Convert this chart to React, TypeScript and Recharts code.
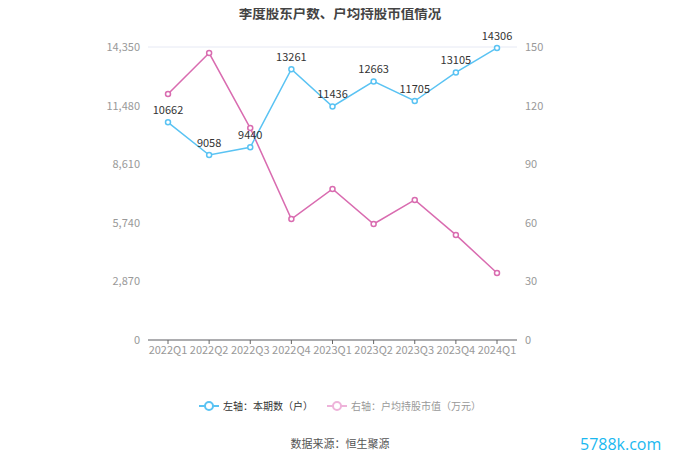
import { LineChart, Line, XAxis, YAxis, CartesianGrid, LabelList } from "recharts";

const quarters = ["2022Q1", "2022Q2", "2022Q3", "2022Q4", "2023Q1", "2023Q2", "2023Q3", "2023Q4", "2024Q1"];
const holders = [10662, 9058, 9440, 13261, 11436, 12663, 11705, 13105, 14306];
const avgValue = [125.9, 146.9, 108.5, 61.9, 77.3, 59.4, 71.7, 53.8, 34.3];
const leftTicks = [0, 2870, 5740, 8610, 11480, 14350];
const rightTicks = [0, 30, 60, 90, 120, 150];

const data = quarters.map((q, i) => ({ q, holders: holders[i], avg: avgValue[i] }));

const BLUE = "#5ac3f3";
const PINK = "#d96cb0";
const FONT = "'Noto Sans CJK SC', 'Noto Sans', sans-serif";

function LegendIcon({ color }: { color: string }) {
  return (
    <svg width={20} height={10} style={{ marginRight: 4 }}>
      <line x1={0} y1={5} x2={20} y2={5} stroke={color} strokeWidth={2} />
      <circle cx={10} cy={5} r={4} fill="#fff" stroke={color} strokeWidth={2} />
    </svg>
  );
}

export default function App() {
  const tick = { fill: "#999", fontSize: 11, fontFamily: FONT };
  return (
    <div style={{ position: "relative", width: 680, height: 460, margin: -8, background: "#fff", fontFamily: FONT }}>
      <div style={{ position: "absolute", top: 2, left: 0, width: 680, textAlign: "center", fontSize: 13.5, fontWeight: "bold", color: "#444" }}>
        季度股东户数、户均持股市值情况
      </div>
      <div style={{ position: "absolute", top: 0, left: 0 }}>
        <LineChart width={680} height={370} data={data} margin={{ top: 47, right: 103, bottom: 0, left: 88 }}>
          <CartesianGrid vertical={false} stroke="#e6e9f4" />
          <XAxis
            dataKey="q"
            tick={tick}
            height={30}
            axisLine={{ stroke: "#666" }}
            tickLine={{ stroke: "#666" }}
            tickSize={4}
            interval={0}
            padding={{ left: 20, right: 20 }}
          />
          <YAxis
            yAxisId="left"
            domain={[0, 14350]}
            ticks={leftTicks}
            width={60}
            tick={tick}
            axisLine={false}
            tickLine={false}
            tickFormatter={(v) => v.toLocaleString("en-US")}
          />
          <YAxis
            yAxisId="right"
            orientation="right"
            domain={[0, 150]}
            ticks={rightTicks}
            width={60}
            tick={tick}
            axisLine={false}
            tickLine={false}
          />
          <Line
            yAxisId="right"
            dataKey="avg"
            stroke={PINK}
            strokeWidth={1.5}
            dot={{ r: 2.5, fill: "#fff", stroke: PINK, strokeWidth: 1.5 }}
            isAnimationActive={false}
          />
          <Line
            yAxisId="left"
            dataKey="holders"
            stroke={BLUE}
            strokeWidth={1.5}
            dot={{ r: 2.5, fill: "#fff", stroke: BLUE, strokeWidth: 1.5 }}
            isAnimationActive={false}
          >
            <LabelList dataKey="holders" position="top" offset={8} style={{ fill: "#333", fontSize: 11, fontFamily: FONT }} />
          </Line>
        </LineChart>
      </div>
      <div style={{ position: "absolute", top: 398, left: 0, width: 680, display: "flex", justifyContent: "center", alignItems: "center", fontSize: 10, color: "#333" }}>
        <div style={{ display: "flex", alignItems: "center", marginRight: 14 }}>
          <LegendIcon color={BLUE} />
          <span>左轴：本期数（户）</span>
        </div>
        <div style={{ display: "flex", alignItems: "center", color: "#999" }}>
          <LegendIcon color="#eeb3da" />
          <span>右轴：户均持股市值（万元）</span>
        </div>
      </div>
      <div style={{ position: "absolute", top: 435, left: 0, width: 680, textAlign: "center", fontSize: 11, color: "#555" }}>
        数据来源：恒生聚源
      </div>
      <div style={{ position: "absolute", top: 433, left: 580, fontSize: 16, color: "#1ab8f0", fontFamily: "'Open Sans', sans-serif" }}>
        5788k.com
      </div>
    </div>
  );
}
